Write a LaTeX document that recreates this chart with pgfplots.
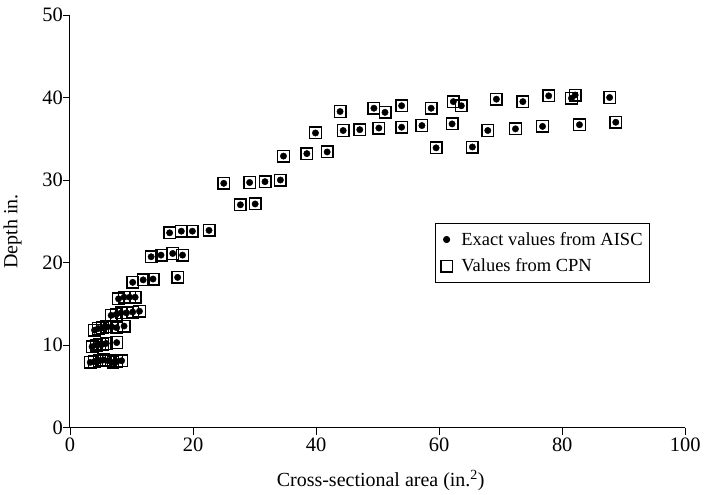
\documentclass[border=0pt]{standalone}
\usepackage{fontspec}
\setmainfont{Liberation Serif}
\usepackage{pgfplots}
\usepackage{pgfplotstable}
\pgfplotsset{compat=1.18}

\pgfplotstableread{
x y
3.3 7.9
4.0 8.0
4.8 8.1
5.5 8.2
6.2 8.1
7.0 7.9
7.6 8.0
8.4 8.1
3.6 9.8
4.3 10.0
4.8 10.1
5.3 10.1
5.9 10.2
7.6 10.3
4.0 11.8
4.6 12.0
5.3 12.1
6.0 12.2
6.8 12.2
7.6 12.1
8.8 12.3
6.7 13.6
7.5 13.7
8.3 13.9
9.2 13.9
10.2 14.0
11.3 14.1
7.9 15.6
8.8 15.8
9.7 15.8
10.6 15.8
10.2 17.6
11.9 17.9
13.5 18.0
17.5 18.2
13.2 20.7
14.8 20.9
16.7 21.1
18.3 20.9
16.2 23.6
18.1 23.8
19.9 23.8
22.6 23.9
25.0 29.6
29.2 29.7
31.7 29.8
34.2 30.0
27.7 27.0
30.1 27.1
34.7 32.9
38.5 33.2
41.8 33.4
59.5 33.9
65.4 34.0
39.9 35.7
44.4 36.0
47.1 36.1
50.2 36.3
53.9 36.4
57.2 36.6
62.1 36.8
67.9 36.0
72.4 36.2
76.8 36.5
82.8 36.7
88.7 37.0
43.9 38.3
49.4 38.7
51.2 38.2
53.9 39.0
58.7 38.7
62.3 39.5
63.6 39.0
69.3 39.8
73.6 39.5
77.8 40.2
81.5 39.9
82.1 40.3
87.7 40.0
}\datatable

\begin{document}
\begin{tikzpicture}
\begin{axis}[
  scale only axis, width=616pt, height=413pt,
  xmin=0, xmax=100, ymin=0, ymax=50,
  axis lines*=left,
  xtick={0,20,...,100}, ytick={0,10,...,50},
  tick align=outside, major tick length=7pt,
  tick style={black, line width=0.8pt},
  axis line style={line width=0.9pt},
  /pgf/number format/assume math mode=true,
  ticklabel style={font=\fontsize{20.5}{23}\selectfont},
  yticklabel style={xshift=3.5pt},
  label style={font=\fontsize{20}{23}\selectfont},
  xlabel={Cross-sectional area (in.\textsuperscript{2})},
  ylabel={Depth in.},
  xlabel style={at={(axis description cs:0.505,0)}, anchor=center, yshift=-53pt},
  ylabel style={at={(axis description cs:-0.0934,0.475)}, anchor=center},
  legend style={at={(axis cs:59.4,24.8)}, anchor=north west, draw=black,
    line width=0.7pt, font=\fontsize{18.5}{21}\selectfont,
    row sep=8pt, column sep=7pt, inner xsep=5pt, inner ysep=7pt},
  legend cell align=left,
]
\addplot[only marks, mark=*, mark size=3.2pt, black] table[x=x,y=y] {\datatable};
\addlegendentry{Exact values from AISC}
\addplot[only marks, mark=square, mark size=5.8pt, black, mark options={line width=1.4pt}] table[x=x,y=y] {\datatable};
\addlegendentry{Values from CPN}
\end{axis}
\path ([shift={(-70pt,-67pt)}]current axis.south west) rectangle ([shift={(18pt,15pt)}]current axis.north east);
\end{tikzpicture}
\end{document}
